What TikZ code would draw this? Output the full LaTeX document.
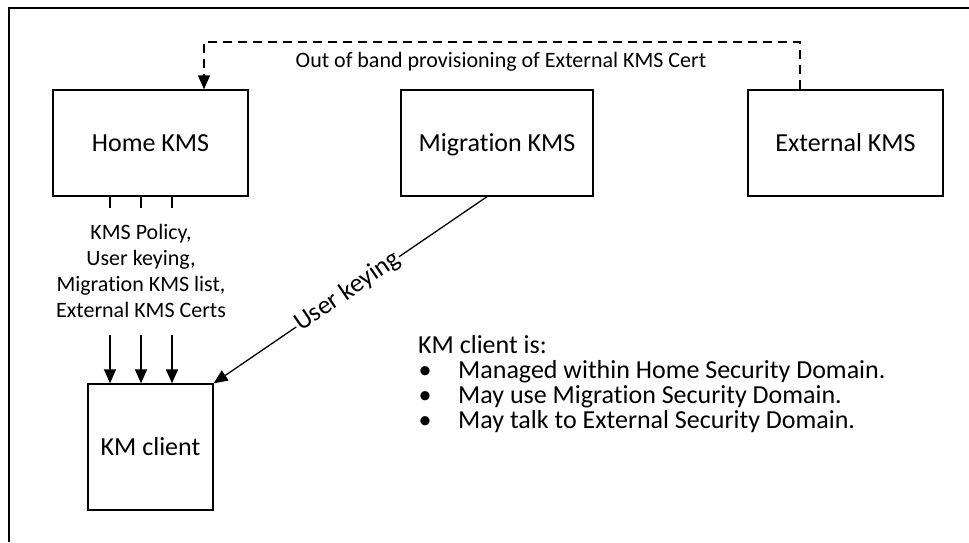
\documentclass[tikz,border=0pt]{standalone}
\usepackage{fontspec}
\setmainfont{Carlito}[Ligatures=NoCommon]
\usetikzlibrary{arrows.meta}
\begin{document}
\begin{tikzpicture}[x=1pt,y=-1pt,
  box/.style={draw,line width=1.3pt,minimum height=106pt,inner sep=0pt,text height=22.5pt,text depth=5pt,font=\fontsize{26}{30}\selectfont},
  conn/.style={line width=1.3pt},
  arr/.style={conn,-{Triangle[length=14pt,width=12pt]}},
  lbl/.style={font=\fontsize{22}{26}\selectfont,align=center,inner sep=0pt},
  txt/.style={font=\fontsize{26}{30}\selectfont,anchor=base west,inner sep=0pt}]
\useasboundingbox (0,0) rectangle (969,542);
\draw[line width=2pt] (9,542) -- (9,8) -- (969,8);

\node[box,minimum width=195pt] (home) at (150.5,143) {Home KMS};
\node[box,minimum width=192pt] (mig) at (497,143) {Migration KMS};
\node[box,minimum width=195pt] (ext) at (845.5,143) {External KMS};
\node[box,minimum width=125pt,minimum height=126pt] (client) at (150.5,447) {KM client};

\coordinate (top) at (500,42);
\draw[arr,dash pattern=on 9pt off 6pt] ([xshift=-45.5pt]ext.north) |- (top) -| ([xshift=53.5pt]home.north);
\node[lbl] (oob) at (501,62) {Out of band provisioning of External KMS Cert};

\foreach \i/\dx in {1/-40.5,2/-9.5,3/21.5} {
  \coordinate (s\i) at (150.5+\dx,208);
  \draw[conn] ([xshift=\dx pt]home.south) -- (s\i);
  \coordinate (a\i) at (150.5+\dx,335);
  \draw[arr] (a\i) -- ([xshift=\dx pt]client.north);
}
\node[lbl,anchor=base] (data) at (141,317) {KMS Policy,\\User keying,\\Migration KMS list,\\External KMS Certs};

\draw[arr] ([xshift=-10pt]mig.south) -- (client.north east)
  node[pos=0.51,sloped,fill=white,inner sep=1pt,font=\fontsize{26}{28}\selectfont] (uk) {User keying};

\node[txt] (kmc) at (418,353) {KM client is:};
\node[txt,anchor=base] (b1) at (425,378) {\textbullet};
\node[txt] (t1) at (458,378) {Managed within Home Security Domain.};
\node[txt,anchor=base] (b2) at (425,403) {\textbullet};
\node[txt] (t2) at (458,403) {May use Migration Security Domain.};
\node[txt,anchor=base] (b3) at (425,428) {\textbullet};
\node[txt] (t3) at (458,428) {May talk to External Security Domain.};
\end{tikzpicture}
\end{document}
